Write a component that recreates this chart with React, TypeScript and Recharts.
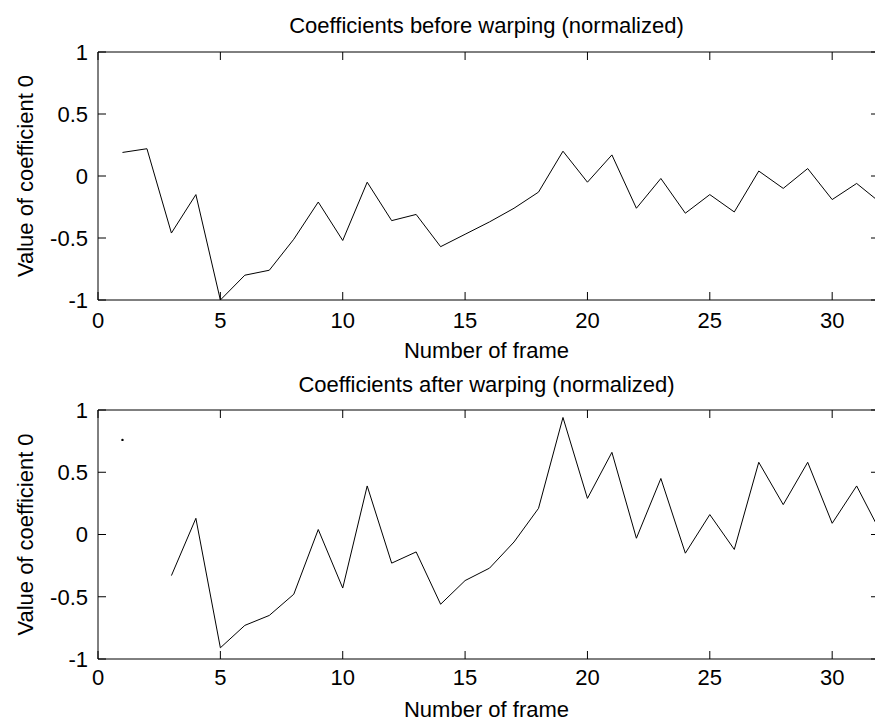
import React from 'react'
import { LineChart, Line, XAxis, YAxis } from 'recharts'

// frame numbers and normalized coefficient 0
const frames = [1, 2, 3, 4, 5, 6, 7, 8, 9, 10, 11, 12, 13, 14, 15, 16, 17, 18, 19, 20, 21, 22, 23, 24, 25, 26, 27, 28, 29, 30, 31, 32]
const beforeWarping = [
  0.19, 0.22, -0.46, -0.15, -1.0, -0.8, -0.76, -0.51, -0.21, -0.52, -0.05, -0.36, -0.31, -0.57, -0.47, -0.37,
  -0.26, -0.13, 0.2, -0.05, 0.17, -0.26, -0.02, -0.3, -0.15, -0.29, 0.04, -0.1, 0.06, -0.19, -0.06, -0.22,
]
const afterWarping = [
  0.76, null, -0.33, 0.13, -0.91, -0.73, -0.65, -0.48, 0.04, -0.43, 0.39, -0.23, -0.14, -0.56, -0.37, -0.27,
  -0.06, 0.21, 0.94, 0.29, 0.66, -0.03, 0.45, -0.15, 0.16, -0.12, 0.58, 0.24, 0.58, 0.09, 0.39, 0.01,
]
const xTicks = [0, 5, 10, 15, 20, 25, 30]
const yTicks = [-1, -0.5, 0, 0.5, 1]
// the figure is cropped on the right, the visible x range stops just short of 32
const xDomain = [0, 31.75]
const yDomain = [-1, 1]

const rows = frames.map((frame, i) => ({ frame, before: beforeWarping[i], after: afterWarping[i] }))

const FONT = "'Liberation Sans', Arial, sans-serif"
const labelText = { fontSize: 22, fill: '#000', fontFamily: FONT }

const CHART_W = 876
const CHART_H = 362
const Y_AXIS_W = 60
const MARGIN_LEFT = 38
const MARGIN_RIGHT = 1
const PLOT_W = CHART_W - MARGIN_LEFT - Y_AXIS_W - MARGIN_RIGHT
const TICK = 8
const Y_TICK_MARGIN = 10

// matlab style box: ticks point inward on all four sides. recharts' own tick lines did not
// show up here, so the tick renderers draw the marks next to their labels.
const makeXTick = (plotHeight: number, tickMargin: number) => (props: any) => {
  const { x, y, payload } = props
  const axisY = y - tickMargin
  return (
    <g>
      <line x1={x} y1={axisY} x2={x} y2={axisY - TICK} stroke="#000" />
      <line x1={x} y1={axisY - plotHeight} x2={x} y2={axisY - plotHeight + TICK} stroke="#000" />
      <text x={x} y={y} dy="0.71em" textAnchor="middle" fontSize={22} fontFamily={FONT} fill="#000">
        {payload.value}
      </text>
    </g>
  )
}

const yTick = (props: any) => {
  const { x, y, payload } = props
  const axisX = x + Y_TICK_MARGIN
  const rightX = axisX + PLOT_W
  return (
    <g>
      <line x1={axisX} y1={y} x2={axisX + TICK} y2={y} stroke="#000" />
      <line x1={rightX} y1={y} x2={rightX - TICK / 2} y2={y} stroke="#000" />
      {payload.value === yDomain[1] && <line x1={axisX} y1={y} x2={rightX} y2={y} stroke="#000" />}
      <text x={x} y={y} dy="0.355em" textAnchor="end" fontSize={22} fontFamily={FONT} fill="#000">
        {payload.value}
      </text>
    </g>
  )
}

// only draw a dot where a value has no neighbours (matlab shows those as a single pixel)
const isolatedDot = (series: Array<number | null>) => (props: any) => {
  const { cx, cy, index } = props
  const prev = series[index - 1]
  const next = series[index + 1]
  if (series[index] == null || prev != null || next != null) return <g key={index} />
  return <circle key={index} cx={cx} cy={cy} r={1.2} fill="#000" />
}

const xLabel = (offset: number) => ({ value: 'Number of frame', position: 'insideBottom', offset, ...labelText })
const titleLabel = (value: string, offset: number) => ({ value, position: 'insideTop', offset, ...labelText })
const yLabel = {
  value: 'Value of coefficient 0',
  angle: -90,
  position: 'insideLeft',
  offset: -13,
  style: { textAnchor: 'middle' },
  ...labelText,
}

// everything handed to recharts is built once, so props keep the same identity between renders
const panels = [
  {
    key: 'before',
    dataKey: 'before',
    dot: isolatedDot(beforeWarping),
    margin: { top: 22, right: MARGIN_RIGHT, bottom: 32, left: MARGIN_LEFT },
    xTickMargin: 12,
    xTick: makeXTick(248, 12),
    title: titleLabel('Coefficients before warping (normalized)', -5),
    xLabel: xLabel(-28),
  },
  {
    key: 'after',
    dataKey: 'after',
    dot: isolatedDot(afterWarping),
    margin: { top: 18, right: MARGIN_RIGHT, bottom: 35, left: MARGIN_LEFT },
    xTickMargin: 10,
    xTick: makeXTick(249, 10),
    title: titleLabel('Coefficients after warping (normalized)', -4),
    xLabel: xLabel(-28),
  },
]

function Panel({ panel }: { panel: (typeof panels)[number] }) {
  return (
    <LineChart width={CHART_W} height={CHART_H} data={rows} margin={panel.margin}>
      <XAxis
        xAxisId="bottom"
        dataKey="frame"
        type="number"
        domain={xDomain}
        allowDataOverflow
        ticks={xTicks}
        tickSize={0}
        tickLine={false}
        tickMargin={panel.xTickMargin}
        tick={panel.xTick}
        stroke="#000"
        label={panel.xLabel}
      />
      <XAxis
        xAxisId="top"
        orientation="top"
        type="number"
        domain={xDomain}
        allowDataOverflow
        ticks={xTicks}
        tickSize={0}
        tickLine={false}
        axisLine={false}
        tick={false}
        label={panel.title}
      />
      <YAxis
        yAxisId="left"
        type="number"
        domain={yDomain}
        allowDataOverflow
        ticks={yTicks}
        width={Y_AXIS_W}
        tickSize={0}
        tickLine={false}
        tickMargin={Y_TICK_MARGIN}
        tick={yTick}
        stroke="#000"
        label={yLabel}
      />
      <Line
        xAxisId="bottom"
        yAxisId="left"
        type="linear"
        dataKey={panel.dataKey}
        stroke="#000"
        strokeWidth={1}
        dot={panel.dot}
        activeDot={false}
        connectNulls={false}
        isAnimationActive={false}
      />
    </LineChart>
  )
}

export default function App() {
  return (
    <div style={{ position: 'absolute', left: 0, top: 0, width: 876, height: 724, background: '#fff', fontFamily: FONT }}>
      {panels.map((p) => (
        <Panel key={p.key} panel={p} />
      ))}
    </div>
  )
}
